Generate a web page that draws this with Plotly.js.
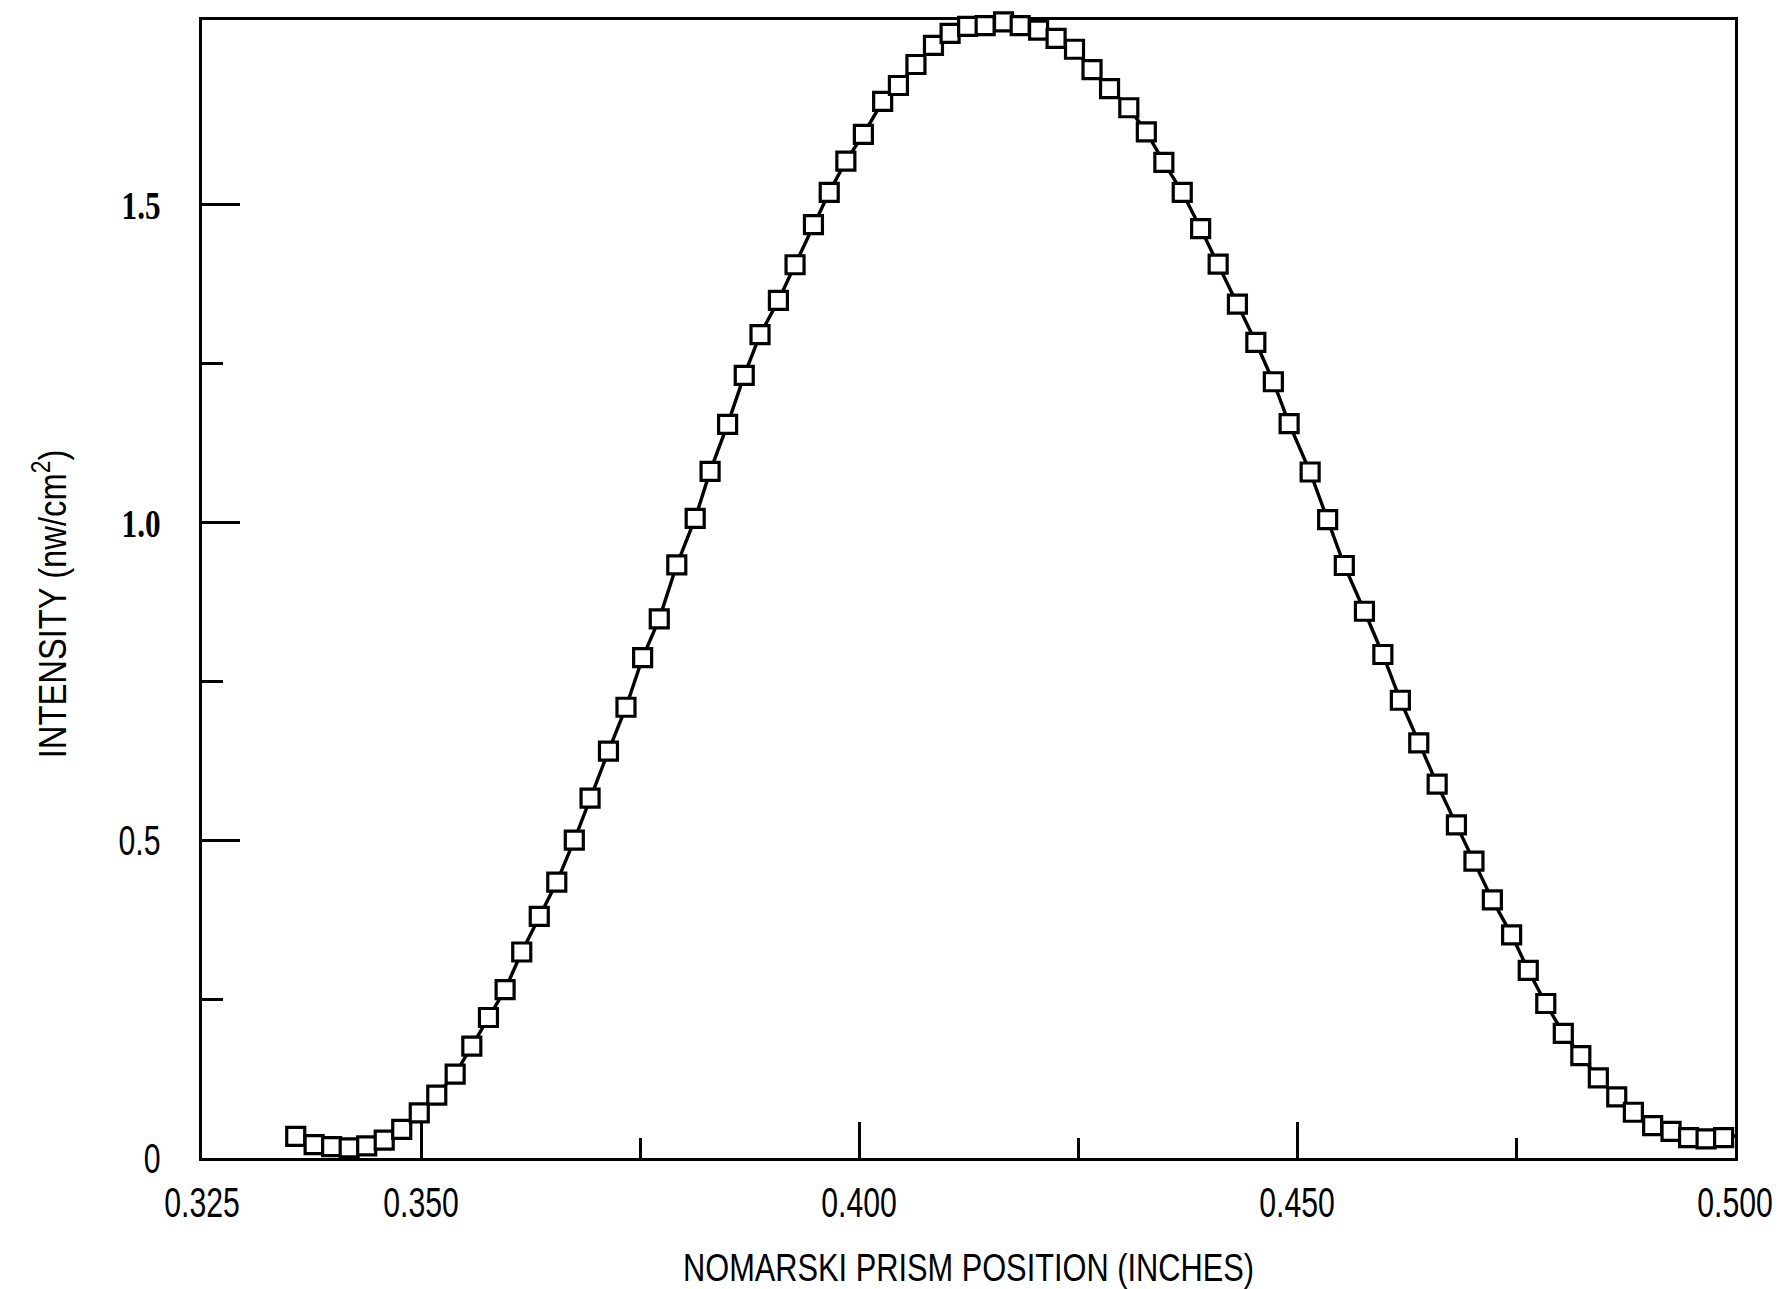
<!DOCTYPE html>
<html><head><meta charset="utf-8">
<script src="https://cdn.plot.ly/plotly-3.0.1.min.js"></script>
<style>html,body{margin:0;padding:0;background:#fff}#chart{width:1787px;height:1289px}</style>
</head><body><div id="chart"></div>
<script>
const positionInches = [
0.3357,0.3378,0.3398,0.3418,0.3438,0.3458,0.3478,0.3498,0.3518,0.3539,
0.3558,0.3577,0.3596,0.3615,0.3635,0.3655,0.3675,0.3693,0.3714,0.3734,
0.3753,0.3772,0.3792,0.3813,0.3830,0.3850,0.3869,0.3887,0.3908,0.3927,
0.3948,0.3966,0.3985,0.4005,0.4027,0.4045,0.4065,0.4085,0.4104,0.4124,
0.4144,0.4165,0.4184,0.4205,0.4225,0.4246,0.4266,0.4286,0.4308,0.4328,
0.4348,0.4369,0.4390,0.4410,0.4432,0.4453,0.4473,0.4491,0.4515,0.4535,
0.4554,0.4577,0.4598,0.4618,0.4639,0.4660,0.4682,0.4702,0.4723,0.4745,
0.4764,0.4784,0.4804,0.4824,0.4844,0.4865,0.4884,0.4906,0.4927,0.4947,
0.4967,0.4987,0.5008];
const intensity = [
0.034,0.021,0.018,0.016,0.019,0.028,0.045,0.071,0.099,0.132,
0.176,0.221,0.265,0.324,0.380,0.434,0.500,0.566,0.640,0.709,
0.787,0.848,0.933,1.006,1.080,1.154,1.231,1.295,1.349,1.405,
1.468,1.519,1.568,1.610,1.662,1.687,1.720,1.750,1.769,1.780,
1.781,1.787,1.781,1.774,1.761,1.744,1.712,1.682,1.652,1.614,
1.566,1.519,1.462,1.406,1.343,1.283,1.221,1.155,1.079,1.004,
0.932,0.860,0.792,0.720,0.653,0.588,0.524,0.467,0.406,0.351,
0.295,0.243,0.196,0.161,0.126,0.096,0.072,0.051,0.042,0.032,
0.030,0.032,0.036];
const xTickVals = [0.325,0.35,0.4,0.45,0.5];
const xTickText = ['0.325','0.350','0.400','0.450','0.500'];
const xMinorVals = [0.375,0.425,0.475];
const yTickVals = [0,0.5,1.0,1.5];
const serif = s => '<span style="font-family:Liberation Serif;font-weight:bold;font-size:40px">'+s+'</span>';
const yTickText = ['0','0.5',serif('1.0'),serif('1.5')];
const yMinorVals = [0.25,0.75,1.25];
const xTitle = 'NOMARSKI PRISM POSITION (INCHES)';
const yTitle = 'INTENSITY (nw/cm<sup>2</sup>)';

const sans = "Liberation Sans, Arial, sans-serif";

const trace = {
  x: positionInches, y: intensity, type: 'scatter', mode: 'lines+markers',
  line: {color: '#000', width: 3.4},
  marker: {symbol: 'square', size: 18, color: '#fff', line: {color: '#000', width: 3.2}},
  cliponaxis: false, hoverinfo: 'skip'
};

const layout = {
  width: 1787, height: 1289,
  margin: {l: 202, r: 52, t: 20, b: 131},
  paper_bgcolor: '#fff', plot_bgcolor: '#fff',
  showlegend: false,
  font: {family: sans, color: '#000', size: 38},
  xaxis: {
    range: [0.325, 0.5], showgrid: false, zeroline: false,
    showline: true, mirror: true, linecolor: '#000', linewidth: 3,
    layer: 'below traces',
    tickmode: 'array', tickvals: xTickVals, ticktext: xTickText,
    ticks: 'inside', ticklen: 36, tickwidth: 3, tickcolor: '#000',
    ticklabelstandoff: 6, ticklabeloverflow: 'allow',
    tickfont: {family: sans, size: 42, color: '#000'},
    minor: {tickmode: 'array', tickvals: xMinorVals, ticks: 'inside', ticklen: 20, tickwidth: 3, tickcolor: '#000', showgrid: false},
    title: {text: xTitle, font: {family: sans, size: 38, color: '#000'}, standoff: 36}
  },
  yaxis: {
    range: [0, 1.79], showgrid: false, zeroline: false,
    showline: true, mirror: true, linecolor: '#000', linewidth: 3,
    layer: 'below traces',
    tickmode: 'array', tickvals: yTickVals, ticktext: yTickText,
    ticks: 'inside', ticklen: 38, tickwidth: 3, tickcolor: '#000',
    ticklabelstandoff: 30, ticklabeloverflow: 'allow',
    tickfont: {family: sans, size: 42, color: '#000'},
    minor: {tickmode: 'array', tickvals: yMinorVals, ticks: 'inside', ticklen: 21, tickwidth: 3, tickcolor: '#000', showgrid: false},
    title: {text: yTitle, font: {family: sans, size: 39, color: '#000'}, standoff: 24}
  }
};

// narrow the lettering to match the condensed typeface of the original
function squeeze(el, s, pre) {
  const bb = el.getBBox();
  if (!bb.width) return;
  const anchor = el.getAttribute('text-anchor') || 'start';
  const ax = anchor === 'middle' ? bb.x + bb.width / 2 : anchor === 'end' ? bb.x + bb.width : bb.x;
  const cy = bb.y + bb.height / 2;
  const t = el.getAttribute('transform') || '';
  el.setAttribute('transform', (pre || '') + t + ' translate(' + ax + ' ' + cy + ') scale(' + s + ' 1) translate(' + (-ax) + ' ' + (-cy) + ')');
}

Plotly.newPlot('chart', [trace], layout, {displayModeBar: false, staticPlot: true}).then(gd => {
  gd.querySelectorAll('.xtick text').forEach(el => squeeze(el, 0.72));
  gd.querySelectorAll('.ytick text').forEach(el => squeeze(el, el.innerHTML.indexOf('Serif') >= 0 ? 0.78 : 0.72));
  gd.querySelectorAll('.g-xtitle text').forEach(el => squeeze(el, 0.81));
  gd.querySelectorAll('.g-ytitle text').forEach(el => squeeze(el, 0.84, 'translate(0 15) '));
});
</script>
</body></html>
